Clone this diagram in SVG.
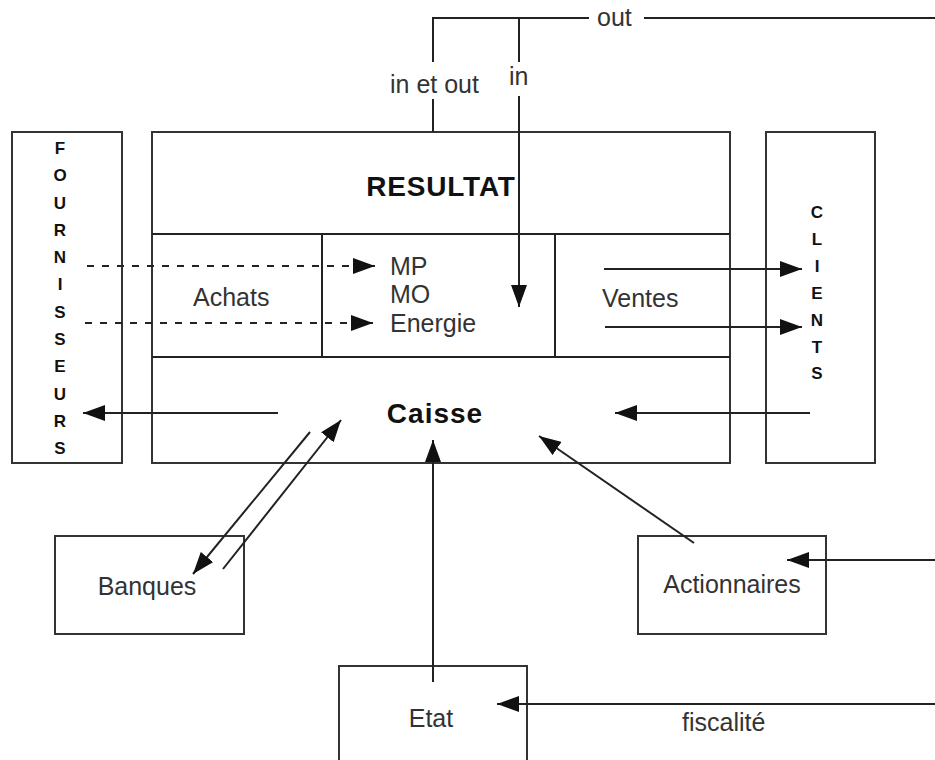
<svg xmlns="http://www.w3.org/2000/svg" width="935" height="760" viewBox="0 0 935 760">
<style>
  .box { fill: #fff; stroke: #333; stroke-width: 2; }
  .ln { fill: none; stroke: #222; stroke-width: 2; }
  .ar { fill: none; stroke: #222; stroke-width: 2; marker-end: url(#ah); }
  .dash { fill: none; stroke: #222; stroke-width: 2; stroke-dasharray: 7 8; marker-end: url(#ah); }
  .t { font-family: "Liberation Sans", Arial, sans-serif; font-size: 25px; fill: #333; }
  .b { font-family: "Liberation Sans", Arial, sans-serif; font-size: 28px; font-weight: bold; fill: #111; }
  .v { font-family: "Liberation Sans", Arial, sans-serif; font-size: 17px; font-weight: bold; fill: #111; text-anchor: middle; }
</style>
<defs>
  <marker id="ah" markerUnits="userSpaceOnUse" markerWidth="23" markerHeight="16" refX="22" refY="8" orient="auto" viewBox="0 0 23 16">
    <path d="M0,0 L22,8 L0,16 z" fill="#111"/>
  </marker>
</defs>
<rect width="935" height="760" fill="#fff"/>

<g id="fournisseurs">
  <rect class="box" x="12" y="132" width="110" height="331"/>
  <text class="v" x="60" y="154">F</text>
  <text class="v" x="60" y="181.3">O</text>
  <text class="v" x="60" y="208.5">U</text>
  <text class="v" x="60" y="235.8">R</text>
  <text class="v" x="60" y="263.1">N</text>
  <text class="v" x="60" y="290.4">I</text>
  <text class="v" x="60" y="317.6">S</text>
  <text class="v" x="60" y="344.9">S</text>
  <text class="v" x="60" y="372.2">E</text>
  <text class="v" x="60" y="399.5">U</text>
  <text class="v" x="60" y="426.7">R</text>
  <text class="v" x="60" y="454">S</text>
</g>

<g id="entreprise">
  <rect class="box" x="152" y="132" width="578" height="331"/>
  <line class="ln" x1="152" y1="234" x2="730" y2="234"/>
  <line class="ln" x1="152" y1="357" x2="730" y2="357"/>
  <line class="ln" x1="322" y1="234" x2="322" y2="357"/>
  <line class="ln" x1="555" y1="234" x2="555" y2="357"/>
  <text class="b" x="441" y="196" text-anchor="middle" letter-spacing="0.8">RESULTAT</text>
  <text class="t" x="193" y="306">Achats</text>
  <text class="t" x="390" y="275">MP</text>
  <text class="t" x="390" y="303">MO</text>
  <text class="t" x="390" y="332">Energie</text>
  <text class="t" x="602" y="307">Ventes</text>
  <text class="b" x="435" y="423" text-anchor="middle" letter-spacing="1">Caisse</text>
</g>

<g id="clients">
  <rect class="box" x="766" y="132" width="109" height="331"/>
  <text class="v" x="817" y="218">C</text>
  <text class="v" x="817" y="245">L</text>
  <text class="v" x="817" y="272">I</text>
  <text class="v" x="817" y="299">E</text>
  <text class="v" x="817" y="326">N</text>
  <text class="v" x="817" y="353">T</text>
  <text class="v" x="817" y="379">S</text>
</g>

<g id="banques">
  <rect class="box" x="55" y="536" width="189" height="98"/>
  <text class="t" x="147" y="595" text-anchor="middle">Banques</text>
</g>

<g id="actionnaires">
  <rect class="box" x="638" y="536" width="188" height="98"/>
  <text class="t" x="732" y="593" text-anchor="middle">Actionnaires</text>
</g>

<g id="etat">
  <rect class="box" x="339" y="666" width="188" height="110"/>
  <text class="t" x="431" y="727" text-anchor="middle">Etat</text>
</g>

<g id="connectors">
  <polyline class="ln" points="433,62 433,18 589,18"/>
  <line class="ln" x1="644" y1="18" x2="935" y2="18"/>
  <line class="ln" x1="519" y1="18" x2="519" y2="62"/>
  <line class="ln" x1="433" y1="99" x2="433" y2="132"/>
  <line class="ar" x1="519" y1="96" x2="519" y2="307"/>
  <text class="t" x="597" y="26">out</text>
  <text class="t" x="390" y="93">in et out</text>
  <text class="t" x="509" y="85">in</text>

  <line class="dash" x1="87" y1="266" x2="375" y2="266"/>
  <line class="dash" x1="85" y1="323" x2="373" y2="323"/>

  <line class="ar" x1="604" y1="269" x2="802" y2="269"/>
  <line class="ar" x1="605" y1="327" x2="802" y2="327"/>

  <line class="ar" x1="278" y1="413" x2="83" y2="413"/>
  <line class="ar" x1="810" y1="413" x2="615" y2="413"/>

  <line class="ar" x1="310" y1="432" x2="193" y2="574"/>
  <line class="ar" x1="223" y1="569" x2="341" y2="420"/>

  <line class="ar" x1="694" y1="543" x2="539" y2="436"/>
  <line class="ar" x1="935" y1="560" x2="787" y2="560"/>

  <line class="ar" x1="433" y1="682" x2="433" y2="440"/>
  <line class="ar" x1="935" y1="704" x2="497" y2="704"/>
  <text class="t" x="682" y="731">fiscalité</text>
</g>
</svg>
